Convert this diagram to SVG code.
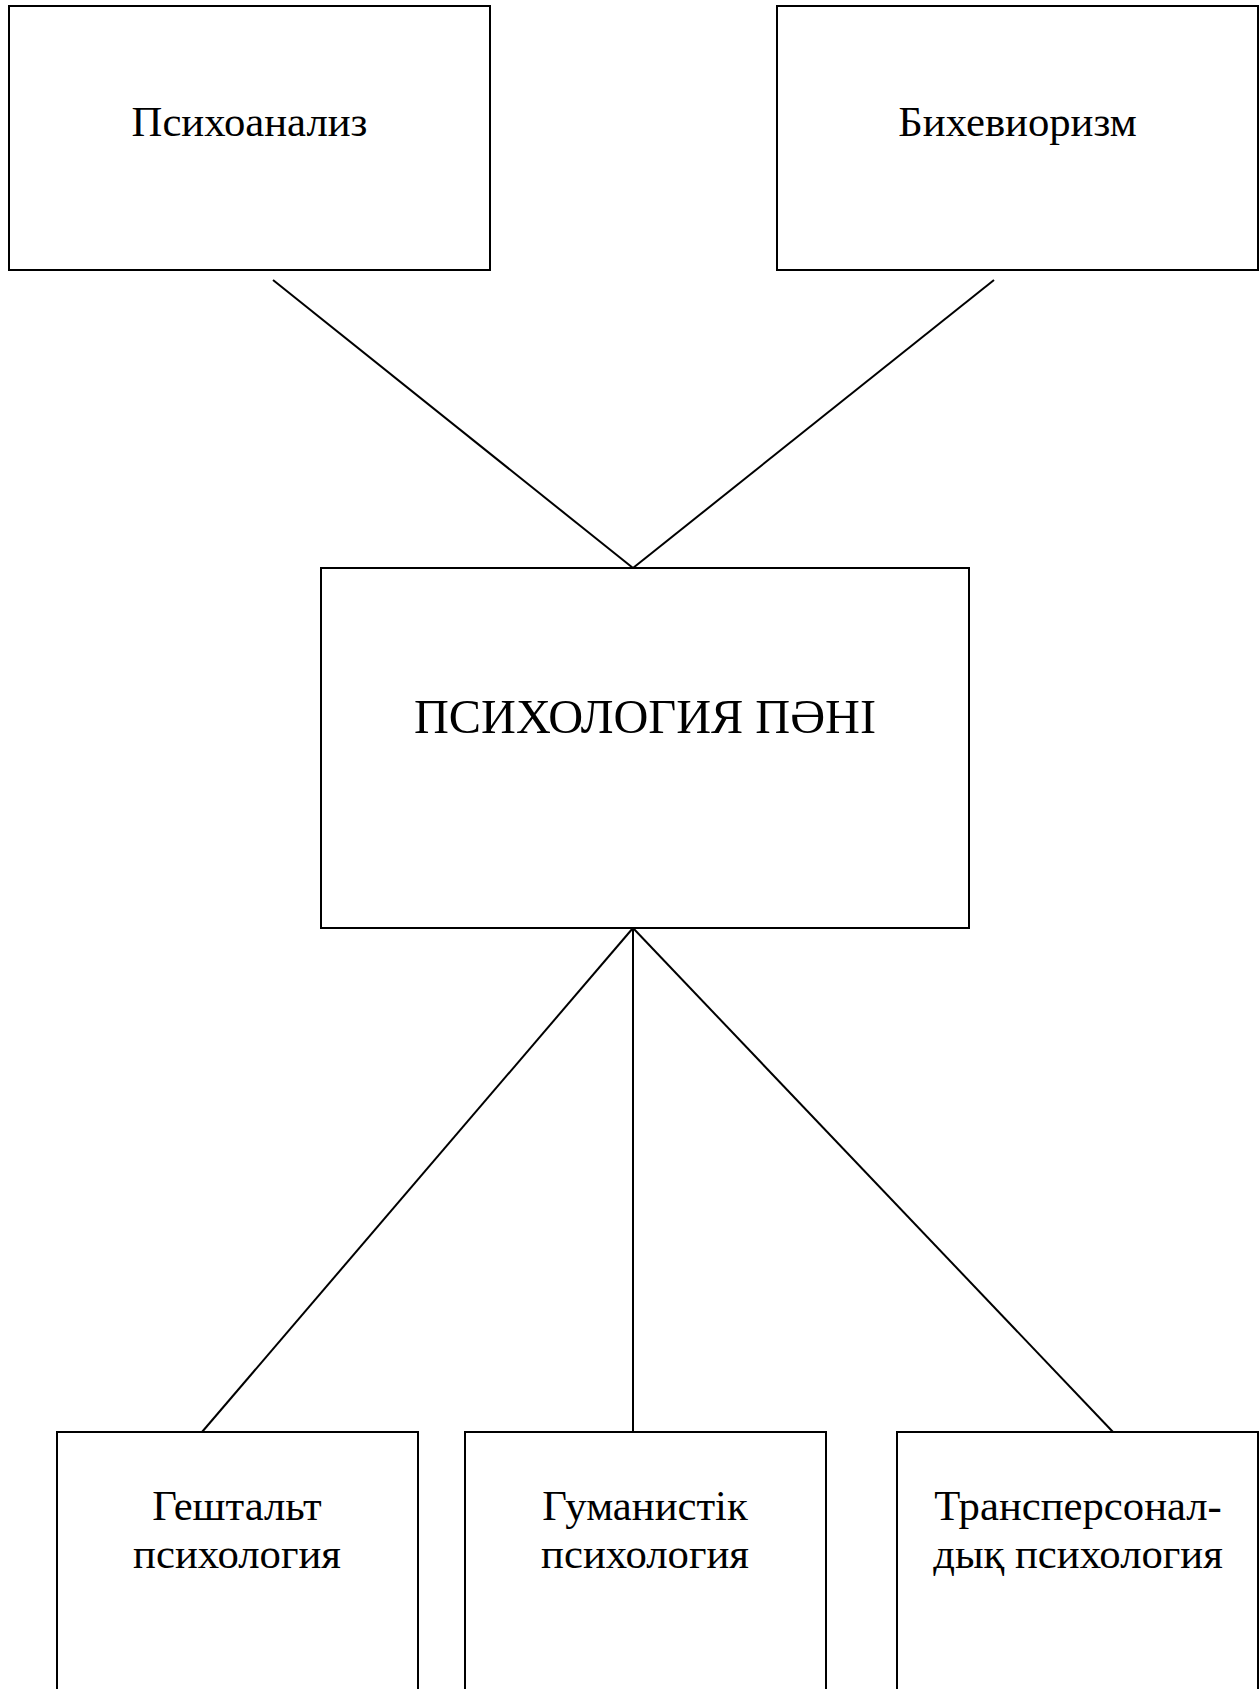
<svg xmlns="http://www.w3.org/2000/svg" width="1260" height="1689" viewBox="0 0 1260 1689">
<style>
rect.box{fill:#fff;stroke:#000;stroke-width:2}
line{stroke:#000;stroke-width:2}
text{font-family:"Liberation Serif","Times New Roman",serif;fill:#000;text-anchor:middle}
.t{font-size:42.7px}
.c{font-size:48px}
</style>
<rect width="1260" height="1689" fill="#fff"/>
<g id="connectors">
<line x1="273" y1="280" x2="633" y2="568"/>
<line x1="994" y1="280" x2="633" y2="568"/>
<line x1="633" y1="928" x2="202" y2="1432"/>
<line x1="633" y1="928" x2="633" y2="1432"/>
<line x1="633" y1="928" x2="1113" y2="1432"/>
</g>
<g id="psychoanalysis">
<rect class="box" x="9" y="6" width="481" height="264"/>
<text class="t" x="249.5" y="136">Психоанализ</text>
</g>
<g id="behaviorism">
<rect class="box" x="777" y="6" width="481" height="264"/>
<text class="t" x="1017.5" y="136">Бихевиоризм</text>
</g>
<g id="subject">
<rect class="box" x="321" y="568" width="648" height="360"/>
<text class="c" x="645" y="733" textLength="462" lengthAdjust="spacingAndGlyphs">ПСИХОЛОГИЯ ПӘНІ</text>
</g>
<g id="gestalt">
<rect class="box" x="57" y="1432" width="361" height="280"/>
<text class="t" x="237" y="1520">Гештальт</text>
<text class="t" x="237" y="1568">психология</text>
</g>
<g id="humanistic">
<rect class="box" x="465" y="1432" width="361" height="280"/>
<text class="t" x="645" y="1520">Гуманистік</text>
<text class="t" x="645" y="1568">психология</text>
</g>
<g id="transpersonal">
<rect class="box" x="897" y="1432" width="361" height="280"/>
<text class="t" x="1078" y="1520">Трансперсонал-</text>
<text class="t" x="1078" y="1568">дық психология</text>
</g>
</svg>
